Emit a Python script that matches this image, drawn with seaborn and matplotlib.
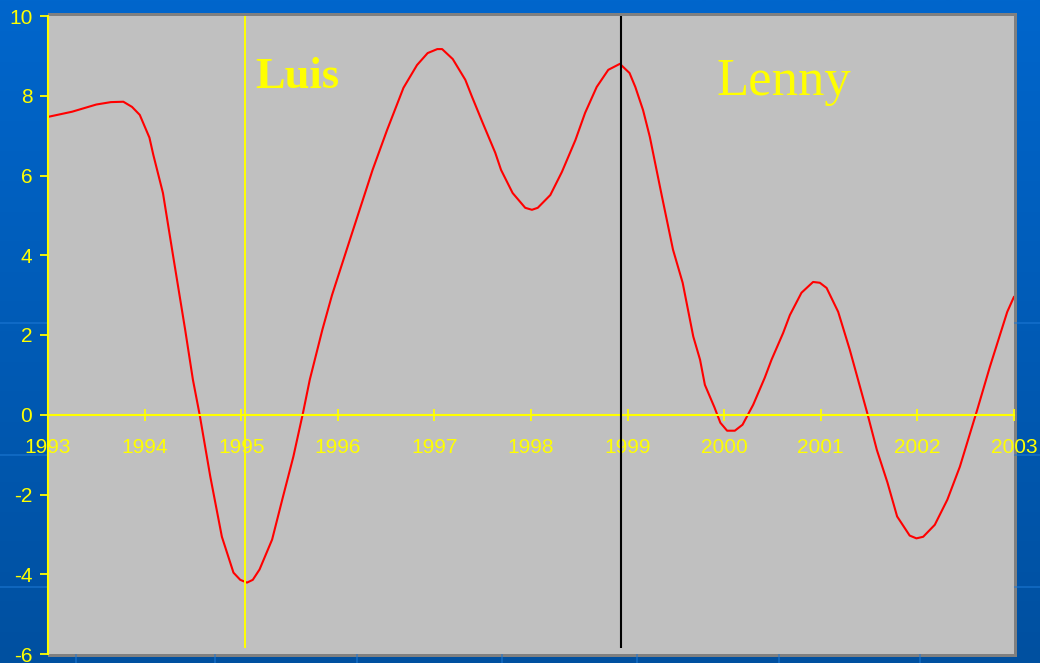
import numpy as np
import matplotlib
matplotlib.use("Agg")
import matplotlib.pyplot as plt
import seaborn as sns
from matplotlib.patches import Rectangle
from matplotlib.colors import LinearSegmentedColormap

# curve
years = [1993.0, 1993.25, 1993.5, 1993.65, 1993.78, 1993.87, 1993.95, 1994.05, 1994.09,
         1994.19, 1994.29, 1994.42, 1994.5, 1994.57, 1994.68, 1994.8, 1994.92, 1994.99,
         1995.06, 1995.12, 1995.19, 1995.32, 1995.43, 1995.54, 1995.64, 1995.71, 1995.84,
         1995.94, 1996.14, 1996.36, 1996.51, 1996.68, 1996.82, 1996.93, 1997.03, 1997.08,
         1997.19, 1997.32, 1997.39, 1997.5, 1997.63, 1997.69, 1997.81, 1997.94, 1998.01,
         1998.07, 1998.2, 1998.32, 1998.46, 1998.56, 1998.68, 1998.8, 1998.92, 1999.02,
         1999.08, 1999.16, 1999.23, 1999.35, 1999.47, 1999.57, 1999.68, 1999.75, 1999.8,
         1999.9, 1999.96, 2000.03, 2000.11, 2000.19, 2000.3, 2000.42, 2000.49, 2000.61,
         2000.68, 2000.8, 2000.92, 2000.99, 2001.06, 2001.18, 2001.3, 2001.48, 2001.58,
         2001.69, 2001.79, 2001.92, 2001.99, 2002.06, 2002.18, 2002.31, 2002.44, 2002.62,
         2002.75, 2002.93, 2003.0]
values = [7.47, 7.6, 7.78, 7.84, 7.85, 7.72, 7.52, 6.95, 6.52,
          5.56, 4.06, 2.13, 0.88, 0.0, -1.55, -3.06, -3.96, -4.14,
          -4.21, -4.14, -3.88, -3.13, -2.08, -1.05, 0.05, 0.88, 2.13,
          3.0, 4.5, 6.14, 7.14, 8.2, 8.77, 9.07, 9.17, 9.17,
          8.92, 8.4, 7.97, 7.32, 6.57, 6.14, 5.56, 5.19, 5.14,
          5.19, 5.51, 6.09, 6.89, 7.57, 8.22, 8.65, 8.8, 8.57,
          8.22, 7.64, 6.97, 5.54, 4.14, 3.31, 1.96, 1.38, 0.75,
          0.18, -0.2, -0.4, -0.4, -0.25, 0.25, 0.93, 1.38, 2.05,
          2.5, 3.06, 3.33, 3.31, 3.18, 2.58, 1.63, 0.05, -0.88,
          -1.7, -2.55, -3.03, -3.1, -3.06, -2.76, -2.13, -1.3, 0.13,
          1.2, 2.58, 2.96]

x_ticks = list(range(1993, 2004))
y_ticks = [-6, -4, -2, 0, 2, 4, 6, 8, 10]

storm_years = [1995.04, 1998.93]
storm_names = ["Luis", "Lenny"]

sns.set_theme(style="ticks")
plt.rcParams["font.family"] = ["Liberation Sans", "DejaVu Sans"]
plt.rcParams["axes.unicode_minus"] = False

W, H = 1040, 663
fig = plt.figure(figsize=(W / 100, H / 100), dpi=100)

# slide background: blue gradient with faint template lines
bg = fig.add_axes([0, 0, 1, 1], zorder=-5)
cmap = LinearSegmentedColormap.from_list("slide", ["#0066cc", "#0050a0"])
bg.imshow(np.linspace(0, 1, 256).reshape(-1, 1), cmap=cmap, aspect="auto",
          extent=[0, 1, 0, 1], origin="upper")
for yp in [323, 455, 587]:
    bg.axhline(1 - yp / H, color="#1f7ad6", lw=1.2, alpha=0.6)
for xp in [76, 215, 357, 502, 637, 779, 920]:
    bg.axvline(xp / W, ymin=0, ymax=0.04, color="#1f7ad6", lw=1.2, alpha=0.6)
# gray frame / shadow around the plot area
bg.add_patch(Rectangle((48 / W, (H - 657) / H), 969 / W, 644 / H,
                       facecolor="#808080", edgecolor="none"))
bg.set_xlim(0, 1)
bg.set_ylim(0, 1)
bg.axis("off")

ax = fig.add_axes([48 / W, (H - 654) / H, 966 / W, 638 / H])
ax.set_facecolor("#c0c0c0")

sns.lineplot(x=years, y=values, ax=ax, color="red", linewidth=1.5)

ax.vlines(storm_years[0], -5.86, 10, color="yellow", linewidth=1.4, zorder=3)
ax.vlines(storm_years[1], -5.86, 10, color="black", linewidth=1.5, zorder=3)

ax.text(1995.15, 8.2, storm_names[0], color="yellow", fontsize=32,
        fontweight="bold", family=["Liberation Serif", "DejaVu Serif"])
ax.text(1999.92, 8.02, storm_names[1], color="yellow", fontsize=38,
        family=["Liberation Serif", "DejaVu Serif"])

ax.set_xlim(1993, 2003)
ax.set_ylim(-6, 10)
ax.set_xticks(x_ticks)
ax.set_xticklabels([str(t) for t in x_ticks])
ax.set_yticks(y_ticks)
ax.set_yticklabels([str(t) for t in y_ticks])

ax.spines["bottom"].set_position(("data", 0))
ax.spines["bottom"].set_color("yellow")
ax.spines["bottom"].set_linewidth(1.5)
ax.spines["left"].set_color("yellow")
ax.spines["left"].set_linewidth(1.5)
ax.spines["top"].set_visible(False)
ax.spines["right"].set_visible(False)

ax.tick_params(axis="x", direction="inout", length=8.6, width=1.3, color="yellow",
               labelcolor="yellow", labelsize=15, pad=12.5)
ax.tick_params(axis="y", direction="out", length=5.8, width=1.3, color="yellow",
               labelcolor="yellow", labelsize=15, pad=5.5)
ax.set_xlabel("")
ax.set_ylabel("")

fig.savefig("out.png", dpi=100)
